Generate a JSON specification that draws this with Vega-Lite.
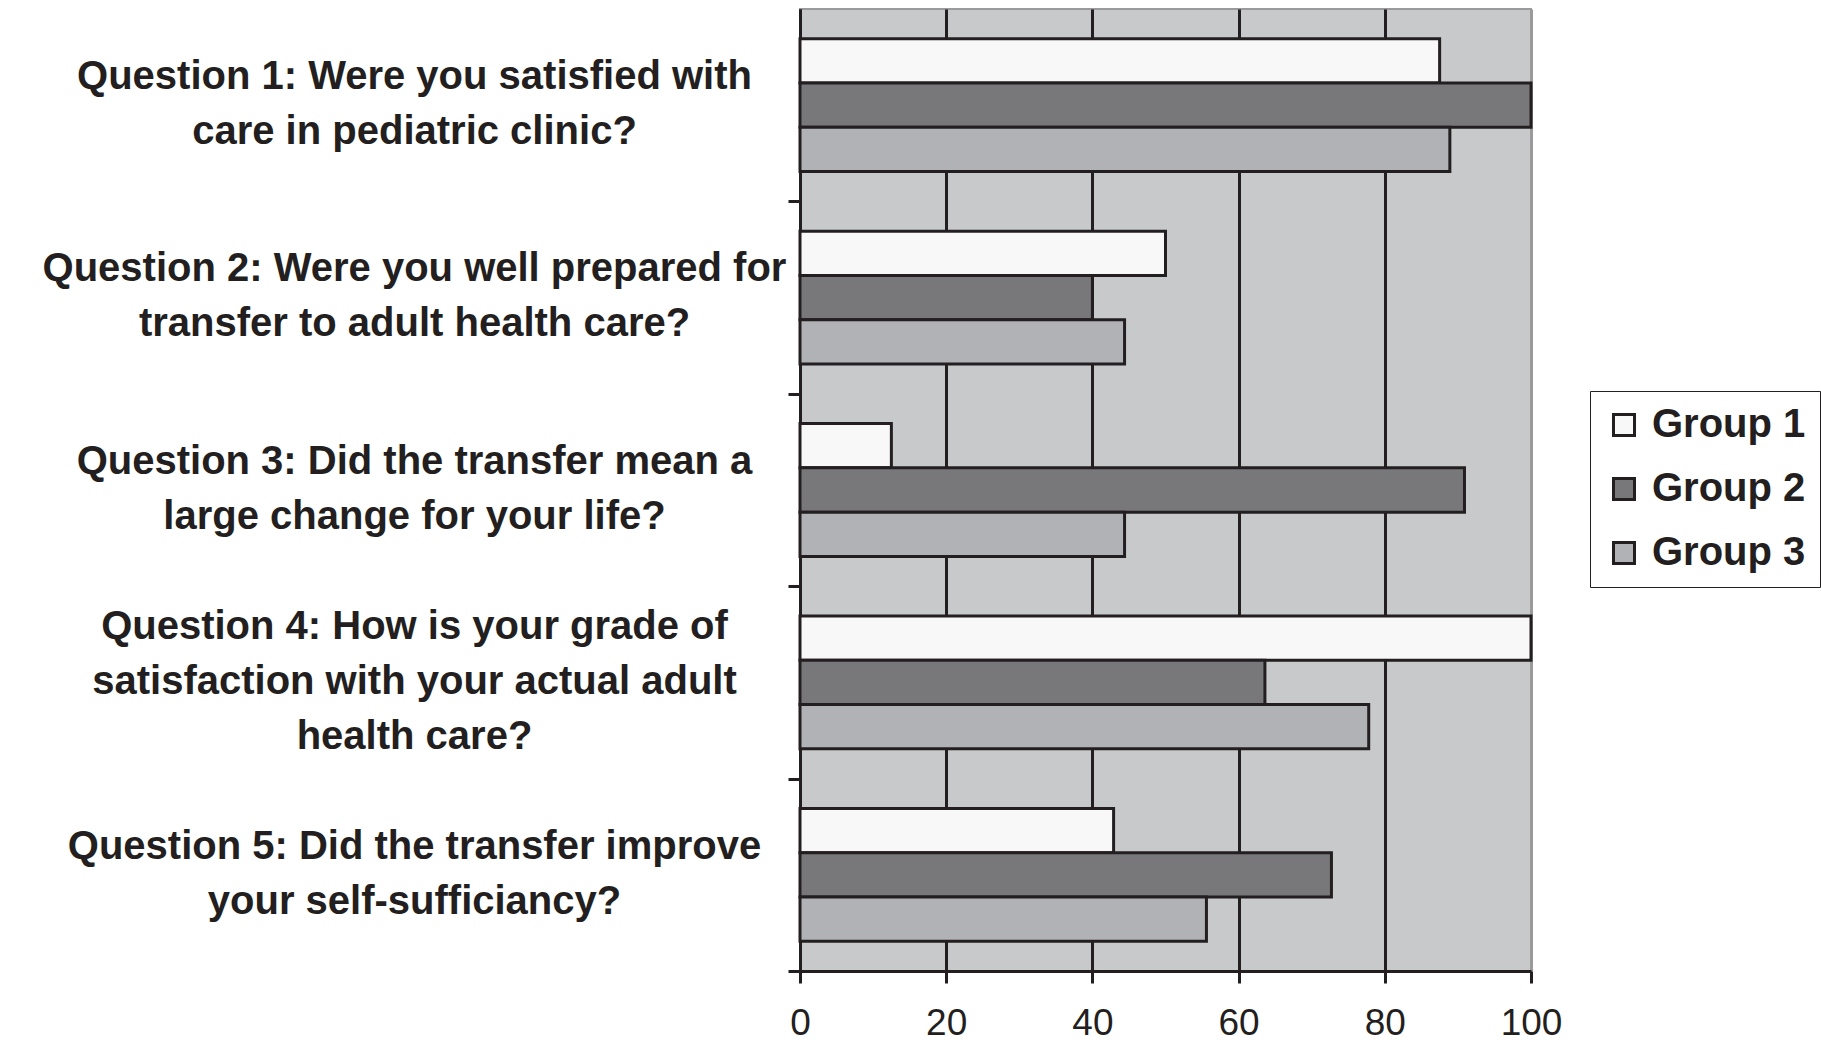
{
  "$schema": "https://vega.github.io/schema/vega-lite/v6.json",
  "autosize": "none",
  "width": 731,
  "height": 962,
  "padding": {"left": 800, "top": 9, "right": 290, "bottom": 79},
  "background": "white",
  "data": {
    "values": [
      {"q": "Question 1: Were you satisfied with|care in pediatric clinic?", "group": "Group 1", "value": 87.5},
      {"q": "Question 1: Were you satisfied with|care in pediatric clinic?", "group": "Group 2", "value": 100},
      {"q": "Question 1: Were you satisfied with|care in pediatric clinic?", "group": "Group 3", "value": 88.9},
      {"q": "Question 2: Were you well prepared for|transfer to adult health care?", "group": "Group 1", "value": 50},
      {"q": "Question 2: Were you well prepared for|transfer to adult health care?", "group": "Group 2", "value": 40},
      {"q": "Question 2: Were you well prepared for|transfer to adult health care?", "group": "Group 3", "value": 44.4},
      {"q": "Question 3: Did the transfer mean a|large change for your life?", "group": "Group 1", "value": 12.5},
      {"q": "Question 3: Did the transfer mean a|large change for your life?", "group": "Group 2", "value": 90.9},
      {"q": "Question 3: Did the transfer mean a|large change for your life?", "group": "Group 3", "value": 44.4},
      {"q": "Question 4: How is your grade of|satisfaction with your actual adult|health care?", "group": "Group 1", "value": 100},
      {"q": "Question 4: How is your grade of|satisfaction with your actual adult|health care?", "group": "Group 2", "value": 63.6},
      {"q": "Question 4: How is your grade of|satisfaction with your actual adult|health care?", "group": "Group 3", "value": 77.8},
      {"q": "Question 5: Did the transfer improve|your self-sufficiancy?", "group": "Group 1", "value": 42.9},
      {"q": "Question 5: Did the transfer improve|your self-sufficiancy?", "group": "Group 2", "value": 72.7},
      {"q": "Question 5: Did the transfer improve|your self-sufficiancy?", "group": "Group 3", "value": 55.6}
    ]
  },
  "config": {
    "font": "Liberation Sans",
    "view": {"fill": "#c8c9cb", "stroke": "#9a9a9a", "strokeWidth": 2}
  },
  "mark": {"type": "bar", "stroke": "#231f20", "strokeWidth": 3},
  "encoding": {
    "y": {
      "field": "q",
      "type": "nominal",
      "sort": null,
      "scale": {"paddingInner": 0.31, "paddingOuter": 0.155},
      "axis": {
        "title": null,
        "labelExpr": "split(datum.label, '|')",
        "labelAlign": "center",
        "labelBaseline": "middle",
        "labelPadding": 374,
        "tickOffset": 96.2,
        "labelOffset": {
          "condition": {"test": "indexof(datum.value, 'Question 4') == 0", "value": -152},
          "value": -125
        },
        "labelFontSize": 40,
        "labelFontWeight": "bold",
        "labelLineHeight": 55,
        "labelColor": "#231f20",
        "labelLimit": 0,
        "tickSize": 12,
        "tickWidth": 3,
        "tickColor": "#231f20",
        "domainColor": "#231f20",
        "domainWidth": 3,
        "grid": false
      }
    },
    "yOffset": {
      "field": "group",
      "type": "nominal"
    },
    "x": {
      "field": "value",
      "type": "quantitative",
      "scale": {"domain": [0, 100], "nice": false},
      "axis": {
        "title": null,
        "values": [0, 20, 40, 60, 80, 100],
        "labelFontSize": 37,
        "labelColor": "#231f20",
        "labelPadding": 22,
        "labelFlush": false,
        "tickSize": 12,
        "tickWidth": 3,
        "tickColor": "#231f20",
        "domainColor": "#231f20",
        "domainWidth": 3,
        "grid": true,
        "gridWidth": 3,
        "gridOpacity": 1,
        "gridColor": {"condition": {"test": "datum.value == 100", "value": "#9a9a9a"}, "value": "#231f20"}
      }
    },
    "fill": {
      "field": "group",
      "type": "nominal",
      "scale": {"domain": ["Group 1", "Group 2", "Group 3"], "range": ["#f8f8f8", "#78787a", "#b1b2b5"]},
      "legend": {
        "title": null,
        "orient": "none",
        "legendX": 790,
        "legendY": 382,
        "symbolType": "square",
        "symbolSize": 441,
        "symbolStrokeColor": "#231f20",
        "symbolStrokeWidth": 3,
        "labelFontSize": 40,
        "labelFontWeight": "bold",
        "labelColor": "#231f20",
        "labelOffset": 8,
        "rowPadding": 24,
        "padding": 14,
        "strokeColor": "#231f20",
        "fillColor": "white"
      }
    }
  }
}
